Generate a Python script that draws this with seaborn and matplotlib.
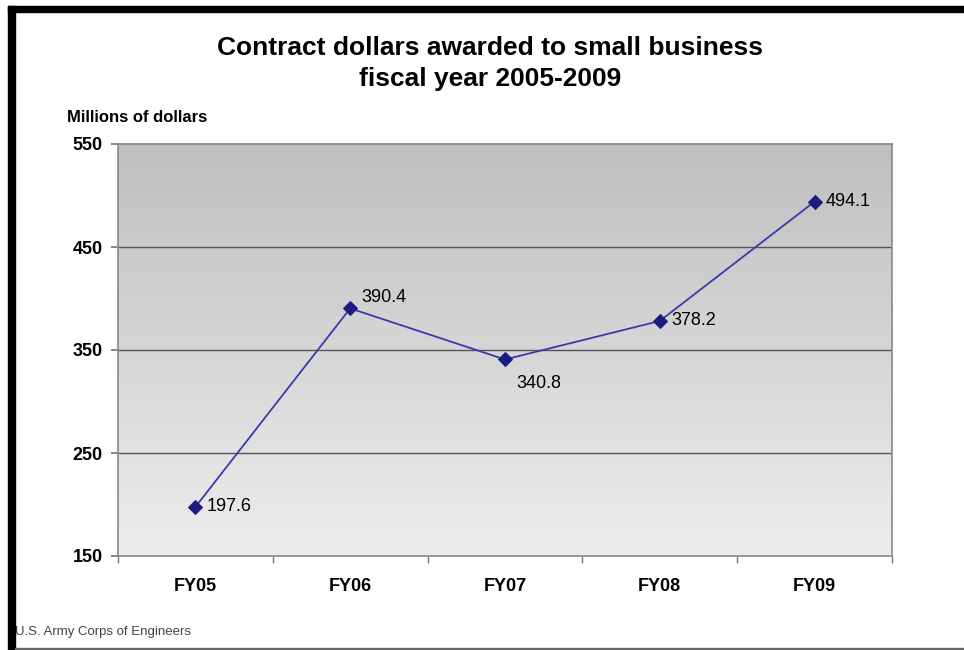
import matplotlib
matplotlib.use("Agg")
import matplotlib.pyplot as plt
import seaborn as sns
import numpy as np
import pandas as pd
from matplotlib.patches import Rectangle
from matplotlib.colors import LinearSegmentedColormap

categories = ["FY05", "FY06", "FY07", "FY08", "FY09"]
values = [197.6, 390.4, 340.8, 378.2, 494.1]
y_ticks = [150, 250, 350, 450, 550]

sns.set_theme(style="white")
plt.rcParams['font.family'] = ['Liberation Sans', 'DejaVu Sans']
plt.rcParams['text.color'] = 'black'
plt.rcParams['xtick.color'] = 'black'
plt.rcParams['ytick.color'] = 'black'

df = pd.DataFrame({"pos": np.arange(len(categories)), "value": values})

fig = plt.figure(figsize=(9.64, 6.5), dpi=100)
ax = fig.add_axes([118/964, 1-556/650, (892-118)/964, (556-144)/650])

grad = np.linspace(0, 1, 256).reshape(-1, 1)
cmap = LinearSegmentedColormap.from_list("g", ["#ededed", "#bfbfbf"])
ax.imshow(grad, aspect="auto", cmap=cmap, origin="lower",
          extent=[-0.5, 4.5, 150, 550], zorder=0)

for yv in y_ticks[1:-1]:
    ax.axhline(yv, color="#555555", lw=1.0, zorder=1)

sns.lineplot(data=df, x="pos", y="value", ax=ax, color="#3a3aaa", lw=1.3,
             marker="D", markersize=7, markerfacecolor="#1c1c80",
             markeredgecolor="#1c1c80", zorder=3)

offsets = [(8, 0), (8, 8), (8, -17), (8, 0), (8, 0)]
for i, v in enumerate(values):
    ax.annotate(f"{v:.1f}", (i, v), xytext=offsets[i],
                textcoords="offset points", fontsize=13, color="black",
                va="center", ha="left")

ax.set_xlim(-0.5, 4.5)
ax.set_ylim(150, 550)
ax.set_yticks(y_ticks)
ax.set_yticklabels([str(t) for t in y_ticks], fontsize=13, fontweight="bold")
ax.set_xticks(np.arange(len(categories)))
ax.set_xticklabels(categories, fontsize=13, fontweight="bold")
ax.tick_params(axis="x", length=0, pad=16)
ax.tick_params(axis="y", length=5, color="#777777", pad=6, left=True)
ax.set_xticks(np.arange(-0.5, 5, 1), minor=True)
ax.tick_params(axis="x", which="minor", length=5, color="#777777", bottom=True)
ax.set_xlabel("")
ax.set_ylabel("")
for s in ax.spines.values():
    s.set_color("#888888")
    s.set_linewidth(1.2)

fig.text(0.508, 1-48/650, "Contract dollars awarded to small business",
         ha="center", va="center", fontsize=19, fontweight="bold")
fig.text(0.508, 1-79/650, "fiscal year 2005-2009",
         ha="center", va="center", fontsize=19, fontweight="bold")
fig.text(67/964, 1-118/650, "Millions of dollars", ha="left", va="center",
         fontsize=12, fontweight="bold")
fig.text(15/964, 1-632/650, "U.S. Army Corps of Engineers", ha="left",
         va="center", fontsize=9.5, color="#444444")

fig.patches.append(Rectangle((8/964, 0), 7/964, 1-6/650, transform=fig.transFigure,
                             color="black", zorder=10))
fig.patches.append(Rectangle((8/964, 1-12/650), 1-8/964, 6/650, transform=fig.transFigure,
                             color="black", zorder=10))
fig.patches.append(Rectangle((15/964, 0), 1, 2/650, transform=fig.transFigure,
                             color="#666666", zorder=10))

fig.savefig("out.png", dpi=100)
